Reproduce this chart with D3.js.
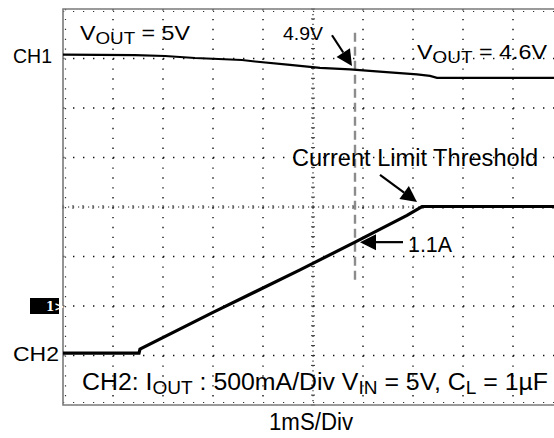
<!DOCTYPE html>
<html lang="en">
<head>
<meta charset="UTF-8">
<title>Current limit response</title>
<script src="https://d3js.org/d3.v7.min.js"></script>
<style>
    body { margin: 0; background: #fff; }
    text { font-family: "Liberation Sans", Arial, Helvetica, sans-serif; fill: #000; }
</style>
</head>
<body>
<svg id="scope"></svg>
<script>
// CH1 : output voltage (1 V/div), time in ms (1 ms/div)
var ch1Time  = [0, 1.44, 2.04, 2.64, 3.58, 3.84, 4.54, 5.14, 5.74, 6.40, 7.08, 7.34, 7.48, 10];
var ch1Volts = [5.08, 5.07, 5.05, 5.01, 4.97, 4.94, 4.87, 4.81, 4.78, 4.73, 4.68, 4.65, 4.61, 4.61];

// CH2 : output current (500 mA/div)
var ch2Time = [0, 1.52, 1.54, 3.00, 4.74, 5.84, 6.88, 7.18, 10];
var ch2Amps = [0, 0, 0.04, 0.41, 0.84, 1.12, 1.39, 1.48, 1.48];

// grid: 10 x 8 divisions
var timeDivs = d3.range(0, 11);
var vertDivs = d3.range(-4, 5);

(function() {
    var width = 554, height = 438;
    var left = 63, top = 9, divW = 50, divH = 49.5;

    var svg = d3.select("#scope").attr("width", width).attr("height", height);

    // time (ms) -> px, divisions -> px
    var x = d3.scaleLinear().domain([0, 10]).range([left, left + 10 * divW]);
    var y = d3.scaleLinear().domain([-4, 4]).range([top + 8 * divH, top]);

    // channel offsets in divisions
    var ch1Ground = -2, ch1PerDiv = 1;
    var ch2Ground = -2.95, ch2PerDiv = 0.5;
    var y1 = function(v) { return y(ch1Ground + v / ch1PerDiv); };
    var y2 = function(a) { return y(ch2Ground + a / ch2PerDiv); };

    var grid = svg.append("g");

    // dotted grid lines
    grid.selectAll("line.v").data(timeDivs.filter(function(d) { return d > 0 && d < 10 && d !== 5; }))
        .enter().append("line")
        .attr("x1", function(d) { return x(d); }).attr("x2", function(d) { return x(d); })
        .attr("y1", y(4)).attr("y2", y(-4))
        .attr("stroke", "#111").attr("stroke-width", 1.4)
        .attr("stroke-dasharray", "1.4 8.5");
    grid.selectAll("line.h").data(vertDivs.filter(function(d) { return d > -4 && d < 4 && d !== 0; }))
        .enter().append("line")
        .attr("x1", x(0)).attr("x2", x(10))
        .attr("y1", function(d) { return y(d); }).attr("y2", function(d) { return y(d); })
        .attr("stroke", "#111").attr("stroke-width", 1.4)
        .attr("stroke-dasharray", "1.4 8.6");

    // centre axes with denser dots and small ticks
    grid.append("line")
        .attr("x1", x(5)).attr("x2", x(5)).attr("y1", y(4)).attr("y2", y(-4))
        .attr("stroke", "#222").attr("stroke-width", 1.2).attr("stroke-dasharray", "1.2 3.75");
    grid.append("line")
        .attr("x1", x(0)).attr("x2", x(10)).attr("y1", y(0)).attr("y2", y(0))
        .attr("stroke", "#222").attr("stroke-width", 1.2).attr("stroke-dasharray", "1.2 3.8");
    var minorT = d3.range(0, 10.01, 0.2);
    var minorD = d3.range(-4, 4.01, 0.2);
    grid.selectAll("line.mt").data(minorT).enter().append("line")
        .attr("x1", function(d) { return x(d); }).attr("x2", function(d) { return x(d); })
        .attr("y1", y(0) - 2).attr("y2", y(0) + 2)
        .attr("stroke", "#333").attr("stroke-width", 1);
    grid.selectAll("line.md").data(minorD).enter().append("line")
        .attr("x1", x(5) - 2).attr("x2", x(5) + 2)
        .attr("y1", function(d) { return y(d); }).attr("y2", function(d) { return y(d); })
        .attr("stroke", "#333").attr("stroke-width", 1);

    // edge tick dots
    grid.append("line")
        .attr("x1", x(0) + 2.5).attr("x2", x(0) + 2.5).attr("y1", y(4)).attr("y2", y(-4))
        .attr("stroke", "#333").attr("stroke-width", 1.2).attr("stroke-dasharray", "1.2 8.7");
    grid.append("line")
        .attr("x1", x(0)).attr("x2", x(10)).attr("y1", y(4) + 2.5).attr("y2", y(4) + 2.5)
        .attr("stroke", "#333").attr("stroke-width", 1.2).attr("stroke-dasharray", "1.2 8.8");
    grid.append("line")
        .attr("x1", x(0)).attr("x2", x(10)).attr("y1", y(-4) - 2.5).attr("y2", y(-4) - 2.5)
        .attr("stroke", "#333").attr("stroke-width", 1.2).attr("stroke-dasharray", "1.2 8.8");

    // frame
    svg.append("path")
        .attr("d", "M" + x(10) + "," + y(4) + "H" + x(0) + "V" + y(-4) + "H" + x(10))
        .attr("fill", "none").attr("stroke", "#7a7a7a").attr("stroke-width", 1.6);

    // marker line
    svg.append("line")
        .attr("x1", x(5.84)).attr("x2", x(5.84)).attr("y1", y(3.52)).attr("y2", y(-1.54))
        .attr("stroke", "#8c8c8c").attr("stroke-width", 2.4).attr("stroke-dasharray", "9 5");

    // traces
    var line1 = d3.line().x(function(d) { return x(d[0]); }).y(function(d) { return y1(d[1]); });
    var line2 = d3.line().x(function(d) { return x(d[0]); }).y(function(d) { return y2(d[1]); });

    svg.append("path")
        .datum(d3.zip(ch1Time, ch1Volts))
        .attr("d", line1)
        .attr("fill", "none").attr("stroke", "#000").attr("stroke-width", 2.2);
    svg.append("path")
        .datum(d3.zip(ch2Time, ch2Amps))
        .attr("d", line2)
        .attr("fill", "none").attr("stroke", "#000").attr("stroke-width", 3.2);

    // arrows (start t, start div, tip t, tip div)
    var arrows = [
        [5.38, 3.47, 5.78, 2.85],
        [6.34, 0.65, 7.08, 0.10],
        [6.80, -0.71, 5.94, -0.71]
    ];
    arrows.forEach(function(a) {
        var x0 = x(a[0]), y0 = y(a[1]), x1 = x(a[2]), y1p = y(a[3]);
        var ang = Math.atan2(y1p - y0, x1 - x0);
        var len = 16, hw = 8;
        var bx = x1 - len * Math.cos(ang), by = y1p - len * Math.sin(ang);
        svg.append("line")
            .attr("x1", x0).attr("y1", y0).attr("x2", bx).attr("y2", by)
            .attr("stroke", "#000").attr("stroke-width", 2.2);
        svg.append("polygon")
            .attr("points", [
                [x1, y1p],
                [bx + hw * Math.sin(ang), by - hw * Math.cos(ang)],
                [bx - hw * Math.sin(ang), by + hw * Math.cos(ang)]
            ].join(" "))
            .attr("fill", "#000");
    });

    // text with optional subscript parts
    function label(px, py, parts, size, subSize, anchor, fitWidth) {
        var t = svg.append("text").attr("x", px).attr("y", py)
            .attr("font-size", size).attr("text-anchor", anchor || "start");
        var shifted = false;
        parts.forEach(function(p) {
            var s = t.append("tspan").text(p[0]);
            if (p[1]) {
                s.attr("font-size", subSize).attr("dy", shifted ? 0 : 4);
                shifted = true;
            } else if (shifted) {
                s.attr("dy", -4);
                shifted = false;
            }
        });
        if (fitWidth) t.attr("textLength", fitWidth).attr("lengthAdjust", "spacingAndGlyphs");
        return t;
    }

    label(x(0.34), y(3.38), [["V"], ["OUT", 1], [" = 5V"]], 21, 17, "start", 110);
    label(x(4.40), y(3.37), [["4.9V"]], 19, 0, "start", 40);
    label(x(7.08), y(3.00), [["V"], ["OUT", 1], [" = 4.6V"]], 21, 17, "start", 130);
    label(x(4.58), y(0.83), [["Current Limit Threshold"]], 23.5, 0, "start", 246);
    label(x(6.90), y(-0.91), [["1.1A"]], 22, 0, "start", 44);
    label(x(0.38), y(-3.70), [["CH2: I"], ["OUT", 1], [" : 500mA/Div  V"], ["IN", 1], [" = 5V, C"], ["L", 1], [" = 1\u00b5F"]], 23.5, 18, "start", 466);

    // channel labels left of the screen
    label(x(0) - 11, y1(ch1Volts[0]) + 8, [["CH1"]], 20.5, 0, "end", 39);
    label(x(0) - 4, y2(0) + 8, [["CH2"]], 21, 0, "end", 46);
    label(x(5) - 2, 430, [["1mS/Div"]], 23.5, 0, "middle", 84);

    // CH1 ground marker
    svg.append("rect")
        .attr("x", x(0) - 33).attr("y", y(ch1Ground) - 8)
        .attr("width", 29).attr("height", 16).attr("fill", "#000");
    svg.append("text")
        .attr("x", x(0) - 17).attr("y", y(ch1Ground) + 4.5)
        .attr("font-size", 12).attr("font-weight", "bold")
        .style("font-family", "'DejaVu Serif', serif").style("fill", "#fff")
        .text("1>");
})();
</script>
</body>
</html>
